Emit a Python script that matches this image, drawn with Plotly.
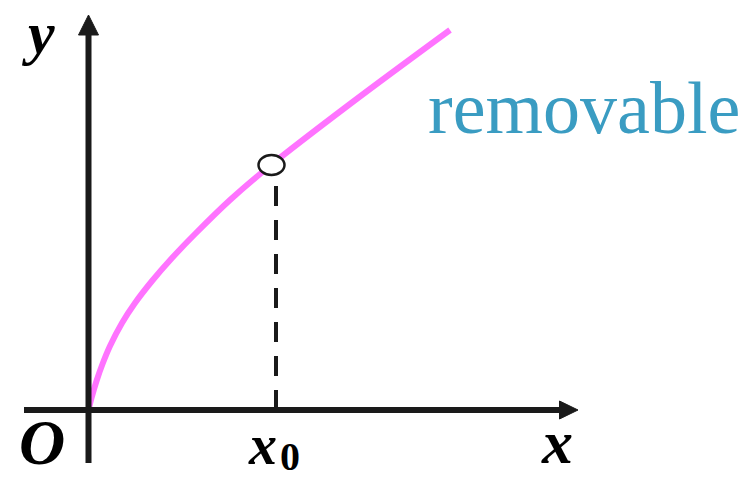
import plotly.graph_objects as go

# Curve data (origin at the axes crossing)
curve_x = [0, 3, 8, 14, 21.5, 33.5, 46.5, 63.5, 83.5, 106.5, 141.5, 182.5, 261.5, 361.5]
curve_y = [0, 12, 29, 46, 64, 87, 107, 129, 152, 176, 210, 245, 306, 380]

# Removable discontinuity
x0_value = 183
y0_value = 245

# Texts
label_y = "y"
label_o = "O"
label_x = "x"
label_x0 = "x"
label_sub = "0"
label_note = "removable"

AX = "#1a1a1a"
PINK = "#FF73FF"
TEAL = "#3A9CC2"
SERIF = "Liberation Serif, Times New Roman, serif"

fig = go.Figure()

fig.add_trace(go.Scatter(
    x=curve_x, y=curve_y, mode="lines",
    line=dict(color=PINK, width=6, shape="spline", smoothing=1.0),
    hoverinfo="skip", showlegend=False,
))

shapes = []
# x axis
shapes.append(dict(type="line", x0=-64.5, x1=475, y0=0, y1=0,
                   line=dict(color=AX, width=6), layer="above"))
shapes.append(dict(type="path", path="M 471,-9 L 489.5,0 L 471,9 Z",
                   fillcolor=AX, line=dict(color=AX, width=1), layer="above"))
# y axis
shapes.append(dict(type="line", x0=0, x1=0, y0=-53, y1=378,
                   line=dict(color=AX, width=6), layer="above"))
shapes.append(dict(type="path", path="M -10,375 L 0,395 L 10,375 Z",
                   fillcolor=AX, line=dict(color=AX, width=1), layer="above"))
# dashed drop line
shapes.append(dict(type="line", x0=x0_value + 4.5, x1=x0_value + 4.5, y0=0, y1=y0_value - 10,
                   line=dict(color=AX, width=4, dash="20px,14px"), layer="above"))
# hollow point
shapes.append(dict(type="circle", x0=x0_value - 13, x1=x0_value + 13,
                   y0=y0_value - 10, y1=y0_value + 10,
                   fillcolor="white", line=dict(color=AX, width=2.5), layer="above"))

ann = []
def txt(t, x, y, size, color="black", bold=True, italic=True, family=SERIF):
    ann.append(dict(text=t, x=x, y=y, xref="x", yref="y", showarrow=False,
                    xanchor="center", yanchor="middle",
                    font=dict(family=family, size=size, color=color,
                              weight="bold" if bold else "normal",
                              style="italic" if italic else "normal")))

txt(label_y, -50, 377, 60)
txt(label_o, -47, -32, 64)
txt(label_x, 468, -32, 62)
txt(label_x0, 174, -35, 56)
txt(label_sub, 201, -46, 40, italic=False)
txt(label_note, 495, 302, 74, color=TEAL, bold=False, italic=False)

fig.update_layout(
    width=750, height=477,
    margin=dict(l=0, r=0, t=0, b=0),
    paper_bgcolor="white", plot_bgcolor="white",
    xaxis=dict(range=[-88.5, 661.5], visible=False, fixedrange=True),
    yaxis=dict(range=[-67, 410], visible=False, fixedrange=True),
    shapes=shapes, annotations=ann, showlegend=False,
)

fig.write_html("out.html", config={"displayModeBar": False},
               post_script="document.body.style.margin='0';document.body.style.overflow='hidden';")
